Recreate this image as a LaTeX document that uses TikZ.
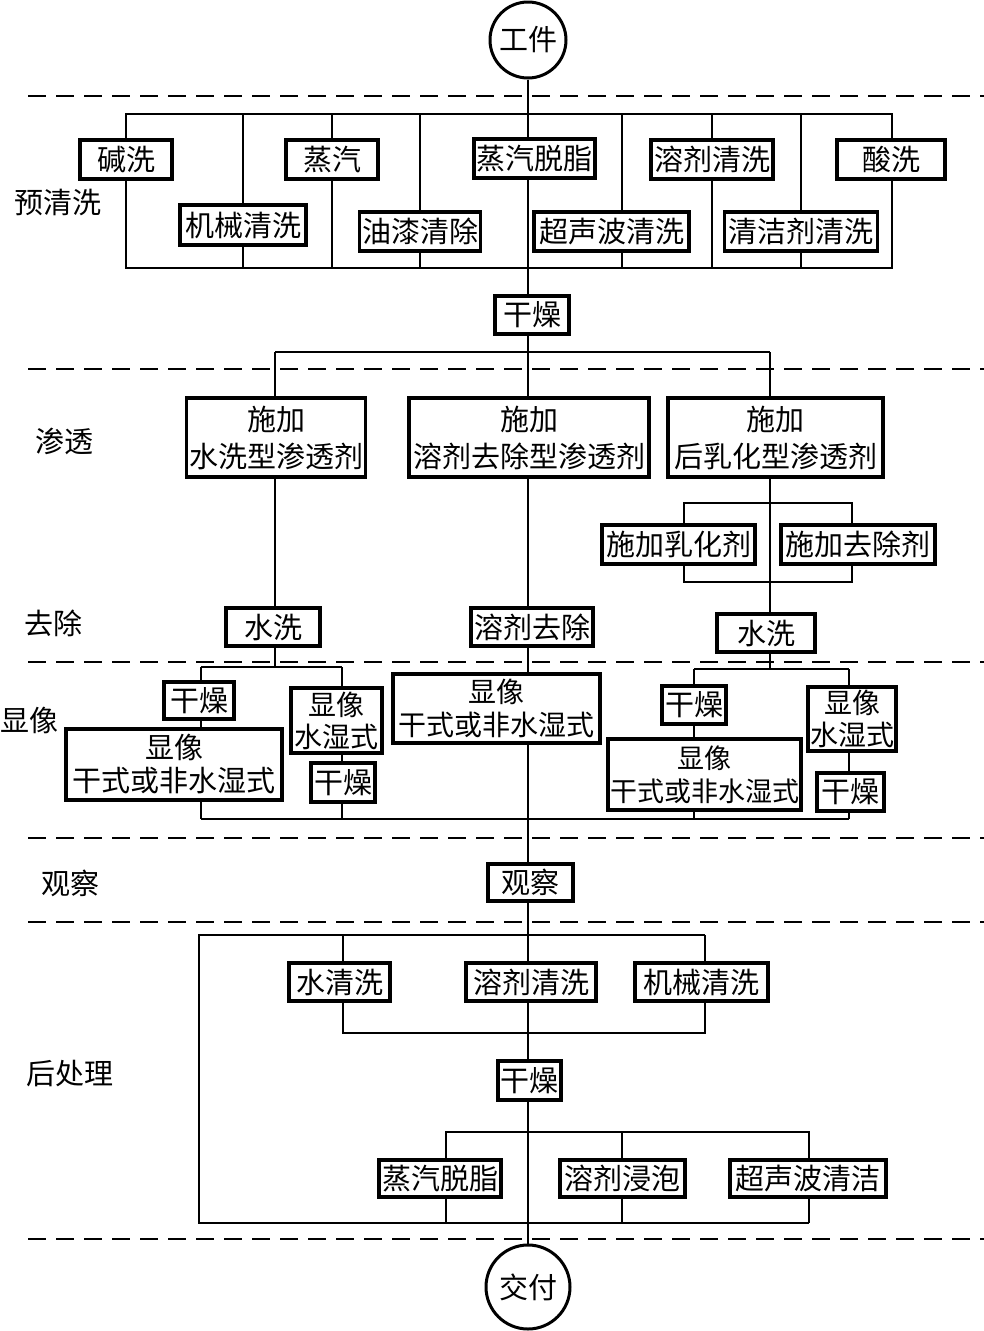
\documentclass[tikz,border=0pt]{standalone}
\usepackage{fontspec}
\setmainfont{Noto Sans CJK SC}
\usetikzlibrary{backgrounds}
\begin{document}
\begin{tikzpicture}[x=1pt,y=-1pt,
  box/.style={draw, line width=3.5pt, fill=white, inner sep=0pt, align=center,
    font=\fontsize{29}{33}\selectfont},
  lab/.style={inner sep=0pt, font=\fontsize{29}{34}\selectfont},
  term/.style={draw, circle, line width=3pt, fill=white, inner sep=0pt,
    font=\fontsize{29}{34}\selectfont},
  conn/.style={line width=1.4pt},
  sep/.style={line width=2.6pt, dash pattern=on 18pt off 10pt},
  septhin/.style={line width=1.5pt, dash pattern=on 18pt off 10pt}]
\useasboundingbox (0,0) rectangle (984,1331);

% terminals
\node[term, minimum size=76pt] (wp) at (528,40) {工件};
\node[term, minimum size=84pt] (de) at (528,1287) {交付};

% separators
\draw[sep] (28,96) -- (984,96);
\draw[sep] (28,369) -- (984,369);
\draw[septhin] (28,662) -- (984,662);
\draw[sep] (28,838) -- (984,838);
\draw[sep] (28,922) -- (984,922);
\draw[sep] (28,1239) -- (984,1239);

% stage labels
\node[lab] (l1) at (58,202) {预清洗};
\node[lab] (l2) at (64,441) {渗透};
\node[lab] (l3) at (53,623) {去除};
\node[lab] (l4) at (30,720) {显像};
\node[lab] (l5) at (70,883) {观察};
\node[lab] (l6) at (70,1074) {后处理};

% pre-cleaning
\node[box, minimum width=92pt, minimum height=39pt] (p1) at (126,159.5) {碱洗};
\node[box, minimum width=126pt, minimum height=40pt] (p2) at (243,225) {机械清洗};
\node[box, minimum width=92pt, minimum height=39pt] (p3) at (332,159.5) {蒸汽};
\node[box, minimum width=121pt, minimum height=39pt] (p4) at (420,231.5) {油漆清除};
\node[box, minimum width=121pt, minimum height=39pt] (p5) at (534.5,158.5) {蒸汽脱脂};
\node[box, minimum width=155pt, minimum height=39pt] (p6) at (611.5,231.5) {超声波清洗};
\node[box, minimum width=122pt, minimum height=39pt] (p7) at (712,159.5) {溶剂清洗};
\node[box, minimum width=153pt, minimum height=39pt] (p8) at (801,231.5) {清洁剂清洗};
\node[box, minimum width=108pt, minimum height=39pt] (p9) at (891,159.5) {酸洗};

\node[box, minimum width=74pt, minimum height=38pt] (dry1) at (532,315) {干燥};

% penetrant
\node[box, minimum width=179pt, minimum height=79pt, font=\fontsize{29}{37}\selectfont] (pen1) at (276,437.5) {施加\\水洗型渗透剂};
\node[box, minimum width=240pt, minimum height=79pt, font=\fontsize{29}{37}\selectfont] (pen2) at (529,437.5) {施加\\溶剂去除型渗透剂};
\node[box, minimum width=215pt, minimum height=79pt, font=\fontsize{29}{37}\selectfont] (pen3) at (775.5,437.5) {施加\\后乳化型渗透剂};
\node[box, minimum width=153pt, minimum height=39pt] (em1) at (678.5,544.5) {施加乳化剂};
\node[box, minimum width=154pt, minimum height=39pt] (em2) at (858,544.5) {施加去除剂};

% removal
\node[box, minimum width=94pt, minimum height=38pt] (rem1) at (273,627) {水洗};
\node[box, minimum width=122pt, minimum height=38pt] (rem2) at (532,627) {溶剂去除};
\node[box, minimum width=98pt, minimum height=38pt] (rem3) at (766,633) {水洗};

% development
\node[box, minimum width=70pt, minimum height=37pt] (d1) at (199,700.5) {干燥};
\node[box, minimum width=216pt, minimum height=71pt] (d2) at (174,764.5) {显像\\干式或非水湿式};
\node[box, minimum width=91pt, minimum height=65pt, font=\fontsize{28}{32}\selectfont] (d3) at (336.5,720.5) {显像\\水湿式};
\node[box, minimum width=64pt, minimum height=39pt] (d4) at (343,782.5) {干燥};
\node[box, minimum width=207pt, minimum height=69pt, font=\fontsize{28}{33}\selectfont] (dm) at (496.5,708.5) {显像\\干式或非水湿式};
\node[box, minimum width=64pt, minimum height=38pt] (r1) at (694,705) {干燥};
\node[box, minimum width=193pt, minimum height=71pt, font=\fontsize{27}{33}\selectfont] (r2) at (704.5,774.5) {显像\\干式或非水湿式};
\node[box, minimum width=88pt, minimum height=64pt, font=\fontsize{28}{32}\selectfont] (r3) at (852,719) {显像\\水湿式};
\node[box, minimum width=67pt, minimum height=38pt] (r4) at (850.5,792) {干燥};

% observation
\node[box, minimum width=85pt, minimum height=37pt] (obs) at (530.5,882.5) {观察};

% post-treatment
\node[box, minimum width=101pt, minimum height=38pt] (q1) at (339.5,982) {水清洗};
\node[box, minimum width=130pt, minimum height=38pt] (q2) at (531,982) {溶剂清洗};
\node[box, minimum width=133pt, minimum height=38pt] (q3) at (701.5,982) {机械清洗};
\node[box, minimum width=63pt, minimum height=39pt] (dry3) at (529.5,1080.5) {干燥};
\node[box, minimum width=122pt, minimum height=37pt] (s1) at (440,1178.5) {蒸汽脱脂};
\node[box, minimum width=125pt, minimum height=37pt] (s2) at (622.5,1178.5) {溶剂浸泡};
\node[box, minimum width=156pt, minimum height=37pt] (s3) at (808,1178.5) {超声波清洁};

% junction coordinates
\coordinate (pA) at (126,114);
\coordinate (pB) at (892,268);
\coordinate (j1) at (275,352);
\coordinate (j2) at (770,352);
\coordinate (eA) at (684,503);
\coordinate (eB) at (852,582);
\coordinate (lA) at (201,667);
\coordinate (lB) at (342,667);
\coordinate (lC) at (201,819);
\coordinate (lD) at (342,819);
\coordinate (rA) at (694,669);
\coordinate (rB) at (849,669);
\coordinate (rC) at (694,819);
\coordinate (rD) at (849,819);
\coordinate (qA) at (199,935);
\coordinate (qB) at (705,935);
\coordinate (qC) at (343,935);
\coordinate (qD) at (343,1033);
\coordinate (qE) at (705,1033);
\coordinate (qF) at (199,1223);
\coordinate (qG) at (809,1223);
\coordinate (sA) at (446,1132);
\coordinate (sB) at (809,1132);
\coordinate (sC) at (622,1132);
\coordinate (sD) at (446,1223);
\coordinate (sE) at (622,1223);

\begin{scope}[on background layer]
  % main line
  \draw[conn] (wp) -- (de);
  % pre-cleaning frame
  \draw[conn] (pA) rectangle (pB);
  \draw[conn] (p2.center |- pA) -- (p2.center |- pB);
  \draw[conn] (p3.center |- pA) -- (p3.center |- pB);
  \draw[conn] (p4.center |- pA) -- (p4.center |- pB);
  \draw[conn] ([xshift=10.5pt]p6.center |- pA) -- ([xshift=10.5pt]p6.center |- pB);
  \draw[conn] (p7.center |- pA) -- (p7.center |- pB);
  \draw[conn] (p8.center |- pA) -- (p8.center |- pB);
  % penetrant branches
  \draw[conn] (j1) -- (j2);
  \draw[conn] (j1) -- (j1 |- lA);
  \draw[conn] (j2) -- (j2 |- rA);
  \draw[conn] (eA) rectangle (eB);
  % development buses
  \draw[conn] (lA) -- (lB);
  \draw[conn] (lA) -- (lC);
  \draw[conn] (lB) -- (lD);
  \draw[conn] (rA) -- (rB);
  \draw[conn] (rA) -- (rC);
  \draw[conn] (rB) -- (rD);
  \draw[conn] (lC) -- (rD);
  % post-treatment
  \draw[conn] (qB) -- (qA) -- (qF) -- (qG);
  \draw[conn] (qC) -- (qD) -- (qE) -- (qB);
  \draw[conn] (sD) -- (sA) -- (sB) -- (qG);
  \draw[conn] (sC) -- (sE);
\end{scope}
\end{tikzpicture}
\end{document}
